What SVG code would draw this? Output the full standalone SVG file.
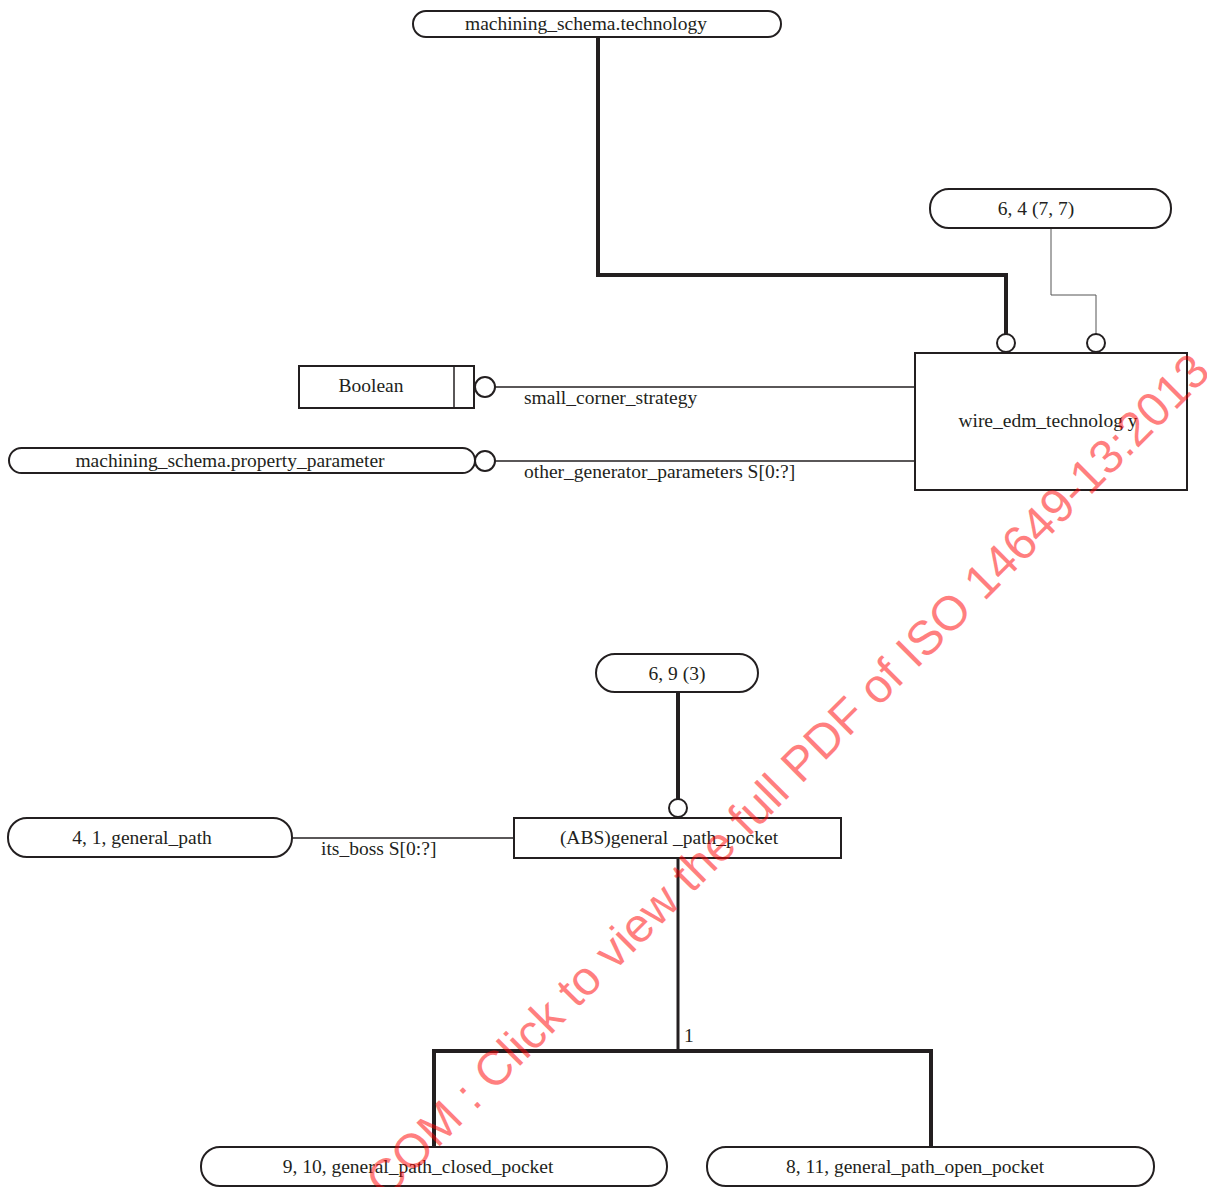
<svg xmlns="http://www.w3.org/2000/svg" width="1207" height="1187" viewBox="0 0 1207 1187">
<style>
.box{fill:#fff;stroke:#231f20;stroke-width:2}
.t{font-family:"Liberation Serif",serif;font-size:19.5px;fill:#231f20}
.m{text-anchor:middle}
.thick{fill:none;stroke:#231f20;stroke-width:4}
.med{fill:none;stroke:#231f20;stroke-width:3}
.thin{fill:none;stroke:#231f20;stroke-width:1.5}
.hair{fill:none;stroke:#555;stroke-width:1}
.c{fill:#fff;stroke:#231f20;stroke-width:2}
.wm{font-family:"Liberation Sans",Arial,sans-serif;font-size:48px;fill:#ff0000;fill-opacity:0.5}
</style>
<rect width="1207" height="1187" fill="#fff"/>
<g id="connectors">
<polyline class="thick" points="598,37 598,275 1006,275 1006,334"/>
<circle class="c" cx="1006" cy="343" r="9"/>
<polyline class="hair" points="1051,228 1051,295 1096,295 1096,334"/>
<circle class="c" cx="1096" cy="343" r="9"/>
<line class="thin" x1="495" y1="387" x2="915" y2="387"/>
<circle class="c" cx="485" cy="387" r="10"/>
<text class="t" x="524" y="404">small_corner_strategy</text>
<line class="thin" x1="495" y1="461" x2="915" y2="461"/>
<circle class="c" cx="485" cy="461" r="10"/>
<text class="t" x="524" y="478">other_generator_parameters S[0:?]</text>
<line class="thick" x1="678" y1="692" x2="678" y2="799"/>
<circle class="c" cx="678" cy="808" r="9"/>
<line class="thin" x1="292" y1="838" x2="514" y2="838"/>
<text class="t" x="321" y="855">its_boss S[0:?]</text>
<line class="med" x1="678" y1="858" x2="678" y2="1051"/>
<text class="t" x="684" y="1042">1</text>
<polyline class="thick" points="434,1147 434,1051 931,1051 931,1147"/>
</g>
<g id="node-technology">
<rect class="box" x="413" y="11" width="368" height="26" rx="13"/>
<text class="t m" x="586" y="30">machining_schema.technology</text>
</g>
<g id="node-64">
<rect class="box" x="930" y="189" width="241" height="39" rx="19"/>
<text class="t m" x="1036" y="215">6, 4 (7, 7)</text>
</g>
<g id="node-wire-edm">
<rect class="box" x="915" y="353" width="272" height="137"/>
<text class="t m" x="1048" y="427">wire_edm_technolog y</text>
</g>
<g id="node-boolean">
<rect class="box" x="299" y="366" width="175" height="42"/>
<line class="thin" x1="454" y1="366" x2="454" y2="408"/>
<text class="t m" x="371" y="392">Boolean</text>
</g>
<g id="node-property-parameter">
<rect class="box" x="9" y="448" width="466" height="25" rx="12.5"/>
<text class="t m" x="230" y="467">machining_schema.property_parameter</text>
</g>
<g id="node-69">
<rect class="box" x="596" y="654" width="162" height="38" rx="19"/>
<text class="t m" x="677" y="680">6, 9 (3)</text>
</g>
<g id="node-general-path-pocket">
<rect class="box" x="514" y="818" width="327" height="40"/>
<text class="t m" x="669" y="844">(ABS)general _path_pocket</text>
</g>
<g id="node-general-path">
<rect class="box" x="8" y="818" width="284" height="39" rx="19"/>
<text class="t m" x="142" y="844">4, 1, general_path</text>
</g>
<g id="node-closed-pocket">
<rect class="box" x="201" y="1147" width="466" height="39" rx="19"/>
<text class="t m" x="418" y="1173">9, 10, general_path_closed_pocket</text>
</g>
<g id="node-open-pocket">
<rect class="box" x="707" y="1147" width="447" height="39" rx="19"/>
<text class="t m" x="915" y="1173">8, 11, general_path_open_pocket</text>
</g>
<text class="wm" transform="translate(386,1200) rotate(-45)">COM : Click to view the full PDF of ISO 14649-13:2013</text>
</svg>
